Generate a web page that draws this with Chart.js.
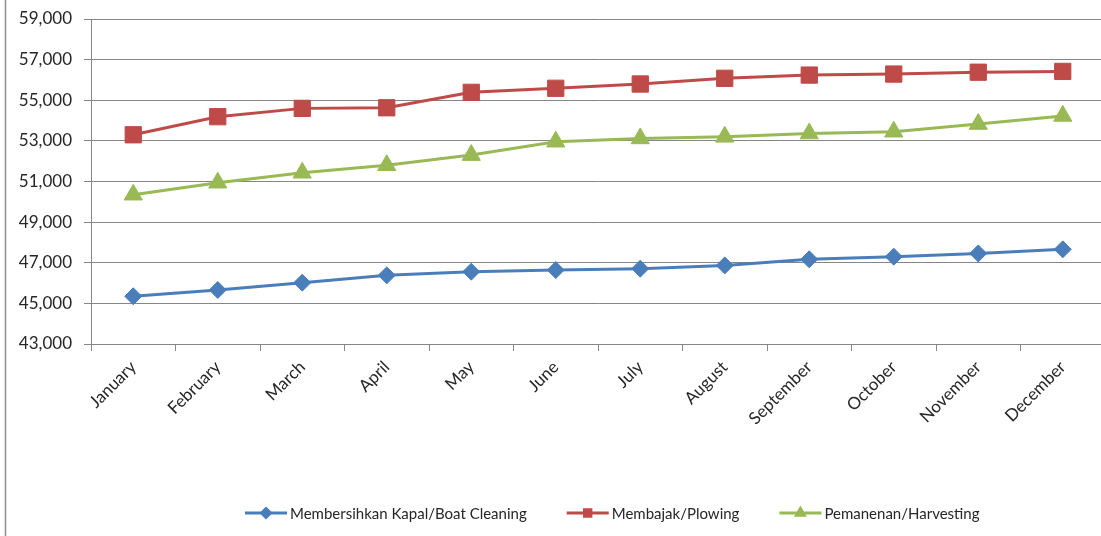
<!DOCTYPE html>
<html>
<head>
<meta charset="utf-8">
<script src="https://cdn.jsdelivr.net/npm/chart.js@4"></script>
<style>
  html, body { margin: 0; padding: 0; background: #fff; overflow: hidden; }
  canvas { display: block; }
</style>
</head>
<body>
<canvas id="chart" width="1105" height="536"></canvas>
<script>
// months and the three series
var months = ['January', 'February', 'March', 'April', 'May', 'June', 'July',
              'August', 'September', 'October', 'November', 'December'];
var boatCleaning = [45350, 45660, 46020, 46380, 46560, 46640, 46710, 46870, 47170, 47300, 47460, 47660];
var plowing      = [53300, 54190, 54600, 54630, 55390, 55590, 55800, 56080, 56240, 56290, 56380, 56420];
var harvesting   = [50350, 50940, 51430, 51800, 52300, 52960, 53120, 53200, 53360, 53450, 53830, 54230];
var seriesNames  = ['Membersihkan Kapal/Boat Cleaning', 'Membajak/Plowing', 'Pemanenan/Harvesting'];
var yMin = 43000, yMax = 59000, yStep = 2000;

var FONT = 'Lato, "Open Sans", sans-serif';

function makeSet(label, data, color, style, radius) {
    return {
        label: label, data: data,
        borderColor: color, backgroundColor: color,
        borderWidth: 3, tension: 0,
        pointStyle: style, pointRadius: radius, pointHoverRadius: radius,
        pointBorderWidth: 1, pointBorderColor: color
    };
}

// line + marker legend like the office one
var lineLegend = {
    id: 'lineLegend',
    afterDraw: function(chart) {
        var ctx = chart.ctx;
        var y = 513, x = 245, lineLen = 42, gap = 3, itemGap = 40;
        ctx.save();
        ctx.font = '15px ' + FONT;
        ctx.textBaseline = 'middle';
        chart.data.datasets.forEach(function(ds) {
            ctx.strokeStyle = ds.borderColor;
            ctx.lineWidth = 3;
            ctx.beginPath();
            ctx.moveTo(x, y);
            ctx.lineTo(x + lineLen, y);
            ctx.stroke();
            ctx.fillStyle = ds.backgroundColor;
            Chart.helpers.drawPoint(ctx, { pointStyle: ds.pointStyle, radius: 4.5, borderWidth: 1 }, x + lineLen / 2, y);
            ctx.fillStyle = '#262626';
            ctx.textAlign = 'left';
            var tx = x + lineLen + gap;
            ctx.fillText(ds.label, tx, y + 1);
            x = tx + ctx.measureText(ds.label).width + itemGap;
        });
        ctx.restore();
    }
};

// thin grey frame line on the left edge
var frame = {
    id: 'frame',
    beforeDraw: function(chart) {
        var ctx = chart.ctx;
        ctx.save();
        ctx.strokeStyle = '#8c8c8c';
        ctx.lineWidth = 1.5;
        ctx.beginPath();
        ctx.moveTo(5.5, 0);
        ctx.lineTo(5.5, chart.height);
        ctx.stroke();
        ctx.restore();
    }
};

new Chart(document.getElementById('chart'), {
    type: 'line',
    data: {
        labels: months,
        datasets: [
            makeSet(seriesNames[0], boatCleaning, '#4a7ebb', 'rectRot', 8.5),
            makeSet(seriesNames[1], plowing, '#be4b48', 'rect', 11.5),
            makeSet(seriesNames[2], harvesting, '#98b954', 'triangle', 10.5)
        ]
    },
    options: {
        responsive: false,
        animation: false,
        events: [],
        layout: { autoPadding: false, padding: { top: 19, left: 0, right: 0, bottom: 0 } },
        plugins: { legend: { display: false }, tooltip: { enabled: false } },
        scales: {
            x: {
                offset: true,
                grid: { offset: true, drawOnChartArea: false, drawTicks: true, tickLength: 7, color: '#868686', lineWidth: 1 },
                border: { color: '#868686', width: 1 },
                ticks: { color: '#262626', font: { family: FONT, size: 17 }, maxRotation: 45, minRotation: 45, padding: 6 },
                afterFit: function(scale) {
                    scale.height = 536 - 19 - 325;
                    scale.paddingLeft = 0;
                    scale.paddingRight = 0;
                }
            },
            y: {
                min: yMin, max: yMax,
                ticks: {
                    stepSize: yStep, color: '#262626', font: { family: FONT, size: 17 }, padding: 12,
                    callback: function(v) { return v.toLocaleString('en-US'); }
                },
                grid: { color: '#868686', lineWidth: 1, tickLength: 7 },
                border: { color: '#868686', width: 1 },
                afterFit: function(scale) {
                    scale.width = 91;
                    scale.paddingTop = 0;
                    scale.paddingBottom = 0;
                }
            }
        }
    },
    plugins: [frame, lineLegend]
});
</script>
</body>
</html>
